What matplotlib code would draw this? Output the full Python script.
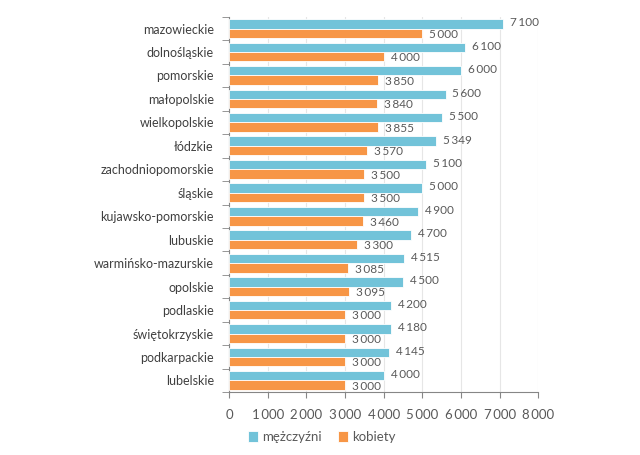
import matplotlib
matplotlib.use("Agg")
import matplotlib.pyplot as plt
import numpy as np

categories = ["mazowieckie", "dolnośląskie", "pomorskie", "małopolskie", "wielkopolskie",
              "łódzkie", "zachodniopomorskie", "śląskie", "kujawsko-pomorskie", "lubuskie",
              "warmińsko-mazurskie", "opolskie", "podlaskie", "świętokrzyskie", "podkarpackie",
              "lubelskie"]
men = [7100, 6100, 6000, 5600, 5500, 5349, 5100, 5000, 4900, 4700, 4515, 4500, 4200, 4180, 4145, 4000]
women = [5000, 4000, 3850, 3840, 3855, 3570, 3500, 3500, 3460, 3300, 3085, 3095, 3000, 3000, 3000, 3000]
xticks = list(range(0, 8001, 1000))

plt.rcParams['font.family'] = ['Lato', 'DejaVu Sans']
txt = '#595959'

def fmt(v):
    return f"{v:,}".replace(",", "\u2009")

fig = plt.figure(figsize=(6.4, 4.55), dpi=100)
ax = fig.add_axes([0.358, 0.138, 0.483, 0.825])

n = len(categories)
y = np.arange(n)
h = 0.40
ax.barh(y - h / 2, men, height=h, color='#72C3D9', edgecolor='white', linewidth=0.6, label='mężczyźni', zorder=3)
ax.barh(y + h / 2, women, height=h, color='#F79646', edgecolor='white', linewidth=0.6, label='kobiety', zorder=3)

for i in range(n):
    ax.text(men[i] + 180, y[i] - h / 2 - 0.05, fmt(men[i]), va='center', ha='left', fontsize=8.5, color=txt)
    ax.text(women[i] + 180, y[i] + h / 2 + 0.05, fmt(women[i]), va='center', ha='left', fontsize=8.5, color=txt)

ax.set_ylim(n - 0.5, -0.5)
ax.set_xlim(0, 8000)
ax.set_xticks(xticks)
ax.set_xticklabels([fmt(v) for v in xticks], fontsize=9.5, color=txt)
ax.set_yticks(y)
ax.set_yticklabels(categories, fontsize=9, color='#404040')
ax.tick_params(axis='y', length=0, pad=11)
ax.set_yticks(np.arange(-0.5, n, 1), minor=True)
ax.tick_params(axis='y', which='minor', length=5, color='#868686')
ax.tick_params(axis='x', length=4, color='#868686', pad=8)
ax.grid(axis='x', color='#E6E6E6', linewidth=0.8, zorder=0)
for s in ['top', 'right']:
    ax.spines[s].set_visible(False)
for s in ['left', 'bottom']:
    ax.spines[s].set_color('#868686')

leg = fig.legend(loc='lower center', bbox_to_anchor=(0.503, 0.0), ncol=2, frameon=False,
                 fontsize=9.5, handlelength=0.8, handleheight=0.8, columnspacing=1.2, handletextpad=0.3)
for t in leg.get_texts():
    t.set_color(txt)

fig.savefig('out.png', dpi=100)
